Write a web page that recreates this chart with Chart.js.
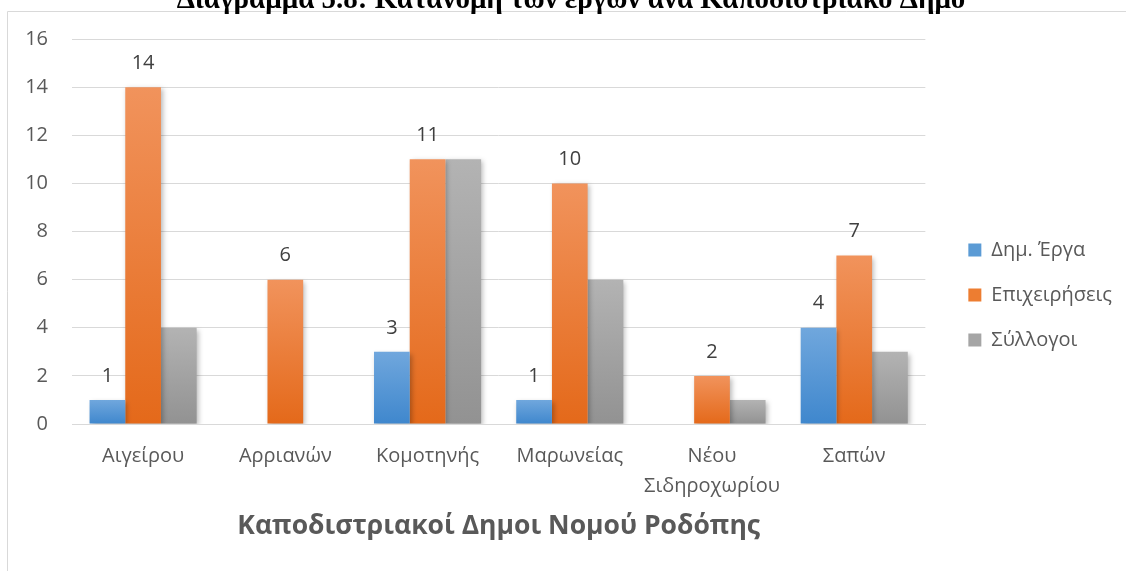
<!DOCTYPE html>
<html>
<head>
<meta charset="utf-8">
<script src="https://cdn.jsdelivr.net/npm/chart.js@4/dist/chart.umd.min.js"></script>
<style>
html,body{margin:0;padding:0;background:#fff;}
#wrap{position:relative;width:1126px;height:571px;}
</style>
</head>
<body>
<div id="wrap"><canvas id="c" width="1126" height="571"></canvas></div>
<script>
const categories = ['Αιγείρου', 'Αρριανών', 'Κομοτηνής', 'Μαρωνείας', ['Νέου', 'Σιδηροχωρίου'], 'Σαπών'];
const seriesNames = ['Δημ. Έργα', 'Επιχειρήσεις', 'Σύλλογοι'];
const dimErga = [1, 0, 3, 1, 0, 4];
const epixeiriseis = [14, 6, 11, 10, 2, 7];
const syllogoi = [4, 0, 11, 6, 1, 3];
const yTicks = [0, 2, 4, 6, 8, 10, 12, 14, 16];
const chartTitle = 'Διάγραμμα 5.8: Κατανομή των έργων ανά Καποδιστριακό Δήμο';
const xAxisTitle = 'Καποδιστριακοί Δημοι Νομού Ροδόπης';
const labelledSeries = [0, 1];

const FONT = "'Open Sans', 'Noto Sans', sans-serif";
const grads = [
  ['#70a7dd', '#3f87cd'],
  ['#f1935c', '#e4691a'],
  ['#b3b3b3', '#929292']
];
const solid = ['#5b9bd5', '#ed7d31', '#a5a5a5'];

function barGrad(i) {
  return function(ctx) {
    const chart = ctx.chart;
    const ys = chart.scales && chart.scales.y;
    if (ctx.type !== 'data' || !ys || ys.top === undefined || isNaN(ys.getPixelForValue(0))) return solid[i];
    const v = ctx.raw || 0;
    const top = ys.getPixelForValue(v);
    const bot = ys.getPixelForValue(0);
    if (!isFinite(top) || !isFinite(bot) || top === bot) return solid[i];
    const g = chart.ctx.createLinearGradient(0, top, 0, bot);
    g.addColorStop(0, grads[i][0]);
    g.addColorStop(1, grads[i][1]);
    return g;
  };
}

const frame = {
  id: 'frame',
  beforeDraw(chart) {
    const c = chart.ctx;
    c.save();
    c.strokeStyle = '#d9d9d9';
    c.lineWidth = 1;
    c.beginPath();
    c.moveTo(7.5, 571);
    c.lineTo(7.5, 11.5);
    c.lineTo(1126, 11.5);
    c.stroke();
    c.fillStyle = '#000';
    c.font = "bold 29px 'Liberation Serif', 'Times New Roman', serif";
    c.textAlign = 'center';
    c.textBaseline = 'alphabetic';
    c.fillText(chartTitle, 571, 8);
    c.restore();
  }
};

const shadow = {
  id: 'shadow',
  beforeDatasetsDraw(chart) {
    const c = chart.ctx;
    c.save();
    c.shadowColor = 'rgba(0,0,0,0.28)';
    c.shadowBlur = 5;
    c.shadowOffsetX = 2;
    c.shadowOffsetY = 2;
  },
  afterDatasetsDraw(chart) {
    chart.ctx.restore();
  }
};

const valueLabels = {
  id: 'valueLabels',
  afterDatasetsDraw(chart) {
    const c = chart.ctx;
    c.save();
    c.fillStyle = '#404040';
    c.font = '20px ' + FONT;
    c.textAlign = 'center';
    c.textBaseline = 'middle';
    labelledSeries.forEach(di => {
      const meta = chart.getDatasetMeta(di);
      const data = chart.data.datasets[di].data;
      meta.data.forEach((bar, i) => {
        if (!data[i]) return;
        c.fillText(String(data[i]), bar.x, bar.y - 24);
      });
    });
    c.restore();
  }
};

new Chart(document.getElementById('c'), {
  type: 'bar',
  data: {
    labels: categories,
    datasets: [
      { label: seriesNames[0], data: dimErga, backgroundColor: barGrad(0) },
      { label: seriesNames[1], data: epixeiriseis, backgroundColor: barGrad(1) },
      { label: seriesNames[2], data: syllogoi, backgroundColor: barGrad(2) }
    ]
  },
  options: {
    responsive: false,
    animation: false,
    devicePixelRatio: 1,
    layout: { padding: { left: 25, top: 39, right: 4, bottom: 29 } },
    datasets: { bar: { barPercentage: 1, categoryPercentage: 0.753, borderWidth: 0 } },
    plugins: {
      legend: {
        position: 'right',
        title: { display: true, text: '', font: { size: 1 }, padding: { top: 4, bottom: 4 } },
        labels: {
          boxWidth: 13, boxHeight: 13, padding: 25,
          color: '#595959',
          font: { family: FONT, size: 20 },
          generateLabels(chart) {
            return chart.data.datasets.map((d, i) => ({
              text: d.label, fillStyle: solid[i], strokeStyle: solid[i], lineWidth: 0,
              datasetIndex: i, hidden: false, fontColor: '#595959'
            }));
          }
        }
      },
      title: { display: false },
      tooltip: { enabled: false }
    },
    scales: {
      x: {
        grid: { display: false, drawTicks: false },
        border: { display: true, color: '#d9d9d9', width: 1 },
        ticks: { color: '#595959', font: { family: FONT, size: 20, lineHeight: 1.5 }, padding: 17, maxRotation: 0, autoSkip: false },
        title: { display: true, text: xAxisTitle, color: '#595959', font: { family: FONT, size: 26.5, weight: 'bold' }, padding: { top: 10, bottom: 0 } },
        afterFit(scale) { scale.height = 118; }
      },
      y: {
        min: 0, max: 16,
        afterBuildTicks(scale) { scale.ticks = yTicks.map(v => ({ value: v })); },
        grid: { color: '#d9d9d9', drawTicks: false },
        border: { display: false },
        ticks: { color: '#595959', font: { family: FONT, size: 20 }, padding: 24 },
        afterFit(scale) { scale.width = 47; }
      },
      spacer: {
        position: 'right',
        display: true,
        grid: { display: false, drawTicks: false },
        border: { display: false },
        ticks: { display: false },
        afterFit(scale) { scale.width = 18; }
      }
    }
  },
  plugins: [frame, shadow, valueLabels]
});
</script>
</body>
</html>
